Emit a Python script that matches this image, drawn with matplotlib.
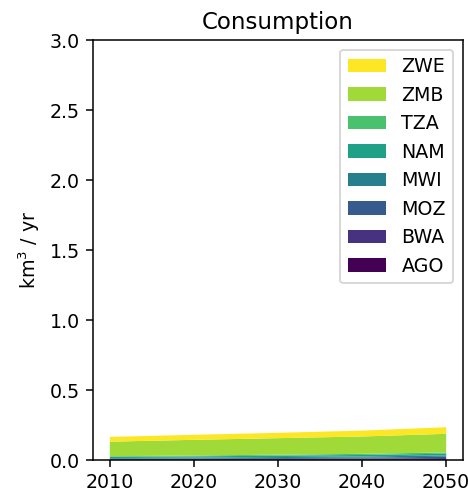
import numpy as np
import matplotlib
matplotlib.use("Agg")
import matplotlib.pyplot as plt

years = [2010, 2020, 2030, 2040, 2050]
paises = ["AGO", "BWA", "MOZ", "MWI", "NAM", "TZA", "ZMB", "ZWE"]

AGO = [0.002, 0.002, 0.003, 0.003, 0.004]
BWA = [0.003, 0.004, 0.005, 0.007, 0.010]
MOZ = [0.004, 0.005, 0.006, 0.007, 0.009]
MWI = [0.005, 0.006, 0.007, 0.008, 0.010]
NAM = [0.008, 0.009, 0.010, 0.011, 0.012]
TZA = [0.005, 0.006, 0.007, 0.008, 0.009]
ZMB = [0.104, 0.112, 0.118, 0.124, 0.133]
ZWE = [0.034, 0.036, 0.038, 0.042, 0.047]

series = [AGO, BWA, MOZ, MWI, NAM, TZA, ZMB, ZWE]
colores = plt.cm.viridis(np.linspace(0, 1, len(series)))

dpi = 137
fig = plt.figure(figsize=(468 / dpi, 492 / dpi), dpi=dpi)
ax = fig.add_axes([93 / 468, 32 / 492, 370 / 468, 420 / 492])
ax.stackplot(years, *series, labels=paises, colors=colores)
ax.set_ylim(0, 3.0)
ax.set_xticks([2010, 2020, 2030, 2040, 2050])
ax.set_title("Consumption")
ax.set_ylabel("km$^3$ / yr")
h, l = ax.get_legend_handles_labels()
ax.legend(h[::-1], l[::-1], loc="upper right")
fig.savefig("out.png", dpi=dpi)
